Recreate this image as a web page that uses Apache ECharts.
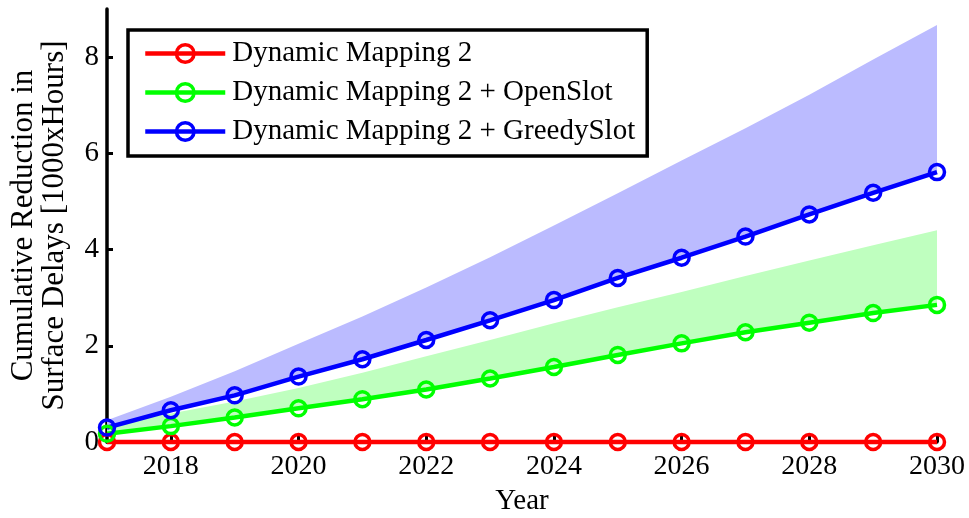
<!DOCTYPE html>
<html>
<head>
<meta charset="utf-8">
<script src="https://cdn.jsdelivr.net/npm/echarts@6/dist/echarts.min.js"></script>
<style>
html,body{margin:0;padding:0;background:#fff;}
#chart{width:969px;height:518px;}
</style>
</head>
<body>
<div id="chart"></div>
<script>
// ---- data ----
const years = [2017, 2018, 2019, 2020, 2021, 2022, 2023, 2024, 2025, 2026, 2027, 2028, 2029, 2030];
const dynamicMapping2 = [0, 0, 0, 0, 0, 0, 0, 0, 0, 0, 0, 0, 0, 0];
const openSlot = [0.17, 0.33, 0.51, 0.70, 0.89, 1.09, 1.32, 1.56, 1.81, 2.05, 2.28, 2.48, 2.68, 2.85];
const greedySlot = [0.30, 0.66, 0.97, 1.36, 1.72, 2.12, 2.53, 2.95, 3.41, 3.83, 4.27, 4.73, 5.18, 5.61];
const openSlotUpper = [0.35, 0.59, 0.84, 1.12, 1.44, 1.78, 2.12, 2.47, 2.80, 3.12, 3.45, 3.77, 4.09, 4.40];
const greedySlotUpper = [0.45, 0.94, 1.47, 2.04, 2.61, 3.21, 3.84, 4.50, 5.17, 5.85, 6.52, 7.22, 7.95, 8.67];
const xTickValues = [2018, 2020, 2022, 2024, 2026, 2028, 2030];
const yTickValues = [0, 2, 4, 6, 8];
const seriesNames = ['Dynamic Mapping 2', 'Dynamic Mapping 2 + OpenSlot', 'Dynamic Mapping 2 + GreedySlot'];
const xAxisTitle = 'Year';
const yAxisTitle = 'Cumulative Reduction in\nSurface Delays [1000xHours]';

// ---- build ----
const pairs = vals => years.map((y, i) => [y, vals[i]]);
const FONT = 'Liberation Serif';

// shaded band between a lower and an upper curve, drawn through the axes' scales
const band = (lower, upper, color) => ({
  type: 'custom', silent: true, z: 1, animation: false, clip: false,
  data: years.map((y, i) => [y, lower[i], upper[i]]),
  encode: { x: 0, y: [1, 2] },
  renderItem: function (params, api) {
    if (params.dataIndex !== 0) return null;
    const pts = [];
    for (let i = 0; i < years.length; i++) pts.push(api.coord([years[i], upper[i]]));
    for (let i = years.length - 1; i >= 0; i--) pts.push(api.coord([years[i], lower[i]]));
    return { type: 'polygon', shape: { points: pts }, style: { fill: color, stroke: null } };
  }
});
const mainLine = (name, vals, color) => ({
  name: name, type: 'line', data: pairs(vals), symbol: 'circle', symbolSize: 15,
  clip: false, z: 3, animation: false,
  lineStyle: { color: color, width: 4.5 },
  itemStyle: { color: 'transparent', borderColor: color, borderWidth: 3.5 }
});

const chart = echarts.init(document.getElementById('chart'), null, { renderer: 'canvas' });
chart.setOption({
  backgroundColor: '#fff',
  animation: false,
  textStyle: { fontFamily: FONT },
  grid: { left: 107, right: 32, top: 9, bottom: 76, containLabel: false, outerBoundsMode: 'none' },
  legend: {
    data: seriesNames,
    orient: 'vertical',
    left: 128, top: 30,
    padding: [9, 12, 10, 15],
    itemGap: 10,
    itemWidth: 80, itemHeight: 22,
    borderColor: '#000', borderWidth: 3.5,
    backgroundColor: '#fff',
    lineStyle: { width: 4.5 },
    itemStyle: { borderWidth: 3.5 },
    textStyle: { fontFamily: FONT, fontSize: 29, color: '#000', padding: [0, 0, 0, 2] },
    selectedMode: false
  },
  xAxis: {
    type: 'value', min: 2017, max: 2030,
    name: xAxisTitle, nameLocation: 'middle', nameGap: 45,
    nameTextStyle: { fontFamily: FONT, fontSize: 29, color: '#000' },
    axisLine: { show: true, onZero: false, lineStyle: { color: '#000', width: 3.5 } },
    axisTick: { show: true, inside: true, length: 6, customValues: xTickValues, lineStyle: { color: '#000', width: 3 } },
    axisLabel: { customValues: xTickValues, formatter: v => String(v), fontFamily: FONT, fontSize: 28, color: '#000', margin: 11 },
    splitLine: { show: false }
  },
  yAxis: {
    type: 'value', min: 0, max: 9,
    name: yAxisTitle, nameLocation: 'middle', nameGap: 37, nameRotate: 90,
    nameTextStyle: { fontFamily: FONT, fontSize: 31, color: '#000', lineHeight: 31, align: 'center' },
    axisLine: { show: true, onZero: false, lineStyle: { color: '#000', width: 3.5 } },
    axisTick: { show: true, inside: true, length: 6, customValues: yTickValues, lineStyle: { color: '#000', width: 3 } },
    axisLabel: { customValues: yTickValues, formatter: v => String(v), fontFamily: FONT, fontSize: 29, color: '#000', margin: 8 },
    splitLine: { show: false }
  },
  series: [
    band(openSlot, openSlotUpper, '#BFFFBF'),
    band(greedySlot, greedySlotUpper, '#BBBBFF'),
    mainLine(seriesNames[0], dynamicMapping2, '#FF0000'),
    mainLine(seriesNames[1], openSlot, '#00FF00'),
    mainLine(seriesNames[2], greedySlot, '#0000FF')
  ]
});
</script>
</body>
</html>
